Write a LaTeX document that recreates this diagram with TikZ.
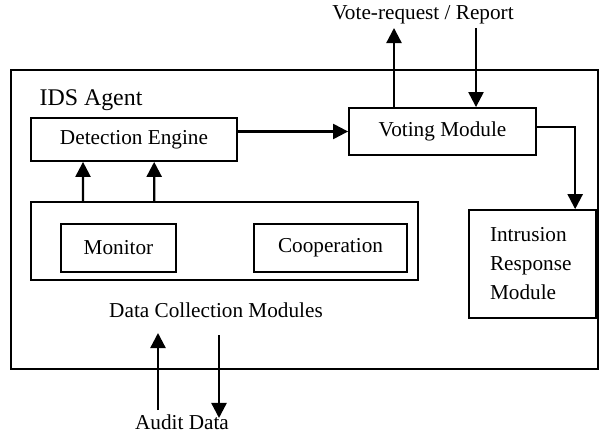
\documentclass[tikz,border=0pt]{standalone}
\usepackage{fontspec}
\setmainfont{Liberation Serif}
\usetikzlibrary{arrows.meta}
\tikzstyle{box}=[rectangle,draw=black,line width=1pt,inner sep=0pt,
  font=\fontsize{12}{16.4}\selectfont]
\tikzstyle{txt}=[inner sep=0pt,font=\fontsize{12}{16.4}\selectfont]
\tikzstyle{arr}=[line width=1.3pt,-{Triangle[length=8.5pt,width=8.5pt]}]
\tikzstyle{none}=[]

\begin{document}
\begin{tikzpicture}[x=0.565pt, y=-0.565pt]
            \useasboundingbox (0,0) rectangle (600,437);
            \node [style=box, minimum width=331.7pt, minimum height=168.9pt] (0) at (304.5, 219.5) {};
            \node [style=txt, font=\fontsize{13.5}{16}\selectfont] (1) at (91, 100) {IDS Agent};
            \node [style=box, minimum width=116.4pt, minimum height=24.3pt] (2) at (134, 139.5) {Detection Engine};
            \node [style=box, minimum width=218.7pt, minimum height=44.1pt] (3) at (224.5, 241) {};
            \node [style=box, minimum width=65pt, minimum height=27.1pt] (4) at (118.5, 248) {Monitor};
            \node [style=box, minimum width=86.4pt, minimum height=27.1pt] (5) at (330.5, 248) {Cooperation};
            \node [style=txt] (6) at (216, 310) {Data Collection Modules};
            \node [style=box, minimum width=105.7pt, minimum height=26.6pt] (7) at (442.5, 131.5) {Voting Module};
            \node [style=box, minimum width=71.8pt, minimum height=61pt, inner xsep=11.9pt,
                   text width=48pt, align=left] (8) at (532.5, 264) {Intrusion\\Response\\Module};
            \node [style=txt] (9) at (423, 15) {Vote-request / Report};
            \node [style=txt] (10) at (182, 422) {Audit Data};
            \coordinate (11) at (394, 28);
            \coordinate (12) at (476, 28);
            \coordinate (13) at (158, 410);
            \coordinate (14) at (158, 333);
            \coordinate (15) at (219, 335);
            \coordinate (16) at (219, 418);
            \draw [style=arr] ([xshift=29.9pt]3.north west) to ([xshift=29.9pt]2.south west);
            \draw [style=arr] ([xshift=70.1pt]3.north west) to ([xshift=70.1pt]2.south west);
            \draw [style=arr] (2.east |- 7.west) to (7.west);
            \draw [style=arr] (11 |- 7.north) to (11);
            \draw [style=arr] (12) to (12 |- 7.north);
            \draw [style=arr] ([yshift=2.5pt]7.east) -| ([xshift=60.5pt]8.north west);
            \draw [style=arr] (13) to (14);
            \draw [style=arr] (15) to (16);
\end{tikzpicture}
\end{document}
